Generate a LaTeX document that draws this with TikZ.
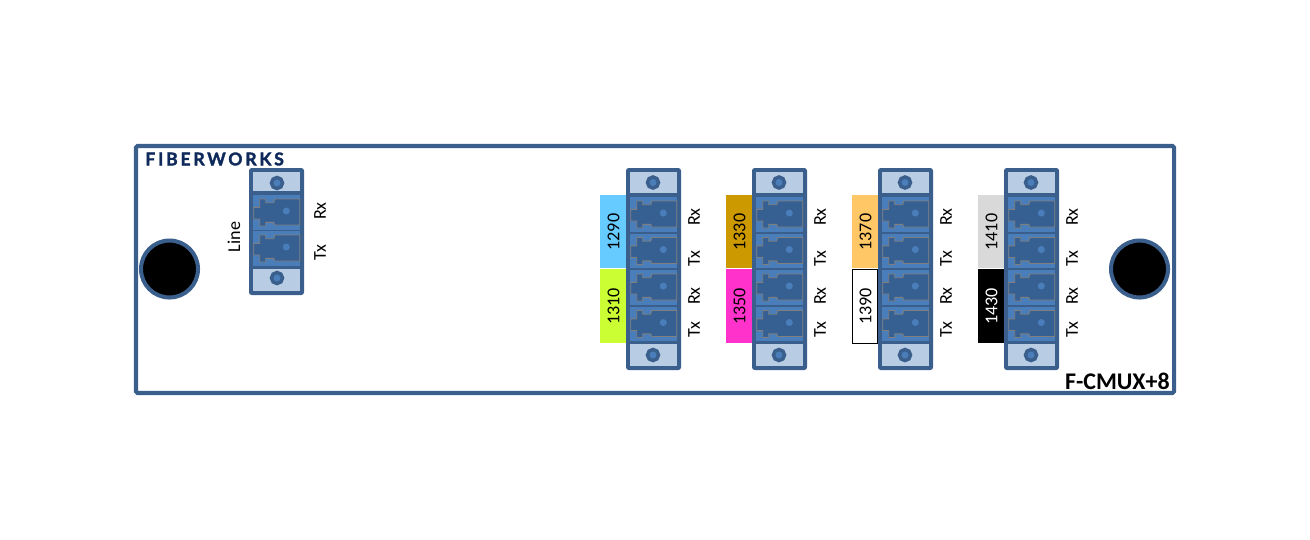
\documentclass[tikz,border=0pt]{standalone}
\usepackage{fontspec}
\setmainfont{Carlito}
\newfontfamily\logofont[LetterSpace=16,FakeBold=2]{Lato}
\definecolor{frameblue}{HTML}{3B5F8C}
\definecolor{paleblue}{HTML}{B8CCE4}
\definecolor{portblue}{HTML}{4A7EBB}
\definecolor{portdark}{HTML}{376092}
\definecolor{portedge}{HTML}{7F7F7F}
\definecolor{logonavy}{HTML}{0F2A5A}
\tikzset{
    px/.style={x=0.02cm, y=-0.02cm},
    lbl/.style={rotate=90, inner sep=0pt, font=\fontsize{10.3pt}{12pt}\selectfont},
    screw/.style={draw=frameblue, fill=portblue, line width=2pt},
    port/.style={draw=portedge, fill=portdark, line width=0.5pt},
    hole/.style={draw=frameblue, fill=black, line width=2.3pt}
}
\newcommand{\lcport}[2]{%
    \fill[portblue] (#1, #2) rectangle ++(47, 34.5);
    \draw[port] (#1+0.7, #2+12.3) -- ++(6, 0) -- ++(0, -8.3) -- ++(6, 0) -- ++(0, 3.7) -- ++(8, 0)
        -- ++(1, -3.7) -- ++(25, 0) -- ++(0, 26) -- ++(-25, 0) -- ++(-1, -2.7) -- ++(-8, 0)
        -- ++(0, 3.7) -- ++(-6, 0) -- ++(0, -7) -- ++(-6, 0) -- cycle;
    \fill[portblue] (#1+33.3, #2+16) circle (3.5);
}
\begin{document}
\begin{tikzpicture}[px]
    \useasboundingbox (0, 0) rectangle (1310, 539);
    % card
    \draw[frameblue, line width=2.3pt, rounded corners=0.8pt] (136, 146) rectangle (1174, 393);
    \node[anchor=west, inner sep=0pt, text=logonavy, font=\logofont\bfseries\fontsize{10pt}{10pt}\selectfont] (logo) at (145, 159) {FIBERWORKS};
    \node[anchor=east, inner sep=0pt, font=\bfseries\fontsize{13.6pt}{15pt}\selectfont] (model) at (1170, 381) {F-CMUX+8};
    \draw[hole] (169.5, 269) circle (28.5);
    \draw[hole] (1139.5, 269) circle (28.5);

    % line connector
    \fill[frameblue, rounded corners=1.5pt] (249, 168) rectangle (304, 295);
    \fill[paleblue] (253, 172) rectangle (300, 191);
    \fill[paleblue] (253, 269) rectangle (300, 291);
    \draw[screw] (277, 183) circle (5.5);
    \draw[screw] (277, 278) circle (5.5);
    \lcport{253}{195}
    \lcport{253}{231}
    \node[lbl] (line) at (234, 237) {Line};
    \node[lbl] (linerx) at (320, 211) {Rx};
    \node[lbl] (linetx) at (320, 253) {Tx};

    % channel connectors
    \foreach \n/\x in {0/630, 1/756, 2/882, 3/1008} {
        \fill[frameblue, rounded corners=1.5pt] (\x-4, 168) rectangle (\x+51, 370);
        \fill[paleblue] (\x, 172) rectangle (\x+47, 193);
        \fill[paleblue] (\x, 344) rectangle (\x+47, 366);
        \draw[screw] (\x+23, 182.5) circle (5.5);
        \draw[screw] (\x+23, 355) circle (5.5);
        \foreach \y in {197, 233.5, 270, 306.5} {
            \lcport{\x}{\y}
        }
        \node[lbl] (rxa\n) at (\x+64, 217) {Rx};
        \node[lbl] (txa\n) at (\x+64, 258.5) {Tx};
        \node[lbl] (rxb\n) at (\x+64, 296) {Rx};
        \node[lbl] (txb\n) at (\x+64, 329.5) {Tx};
    }

    % wavelength bands
    \foreach \x/\y/\h/\c/\t/\w in {
        600/195/73/66CCFF/1290/black, 600/269/74/CCFF33/1310/black,
        726/195/73/CC9900/1330/black, 726/269/74/FF33CC/1350/black,
        852/195/73/FFC766/1370/black, 852/269/74/FFFFFF/1390/black,
        978/195/73/D9D9D9/1410/black, 978/269/74/000000/1430/white} {
        \definecolor{bandcol}{HTML}{\c}
        \fill[bandcol] (\x, \y) rectangle (\x+26, \y+\h);
        \node[lbl, text=\w] (band\t) at (\x+13.5, \y+\h/2+0.5) {\t};
    }
    \draw[black, line width=0.5pt] (852.5, 269.5) rectangle (877.5, 343.5);
\end{tikzpicture}
\end{document}
